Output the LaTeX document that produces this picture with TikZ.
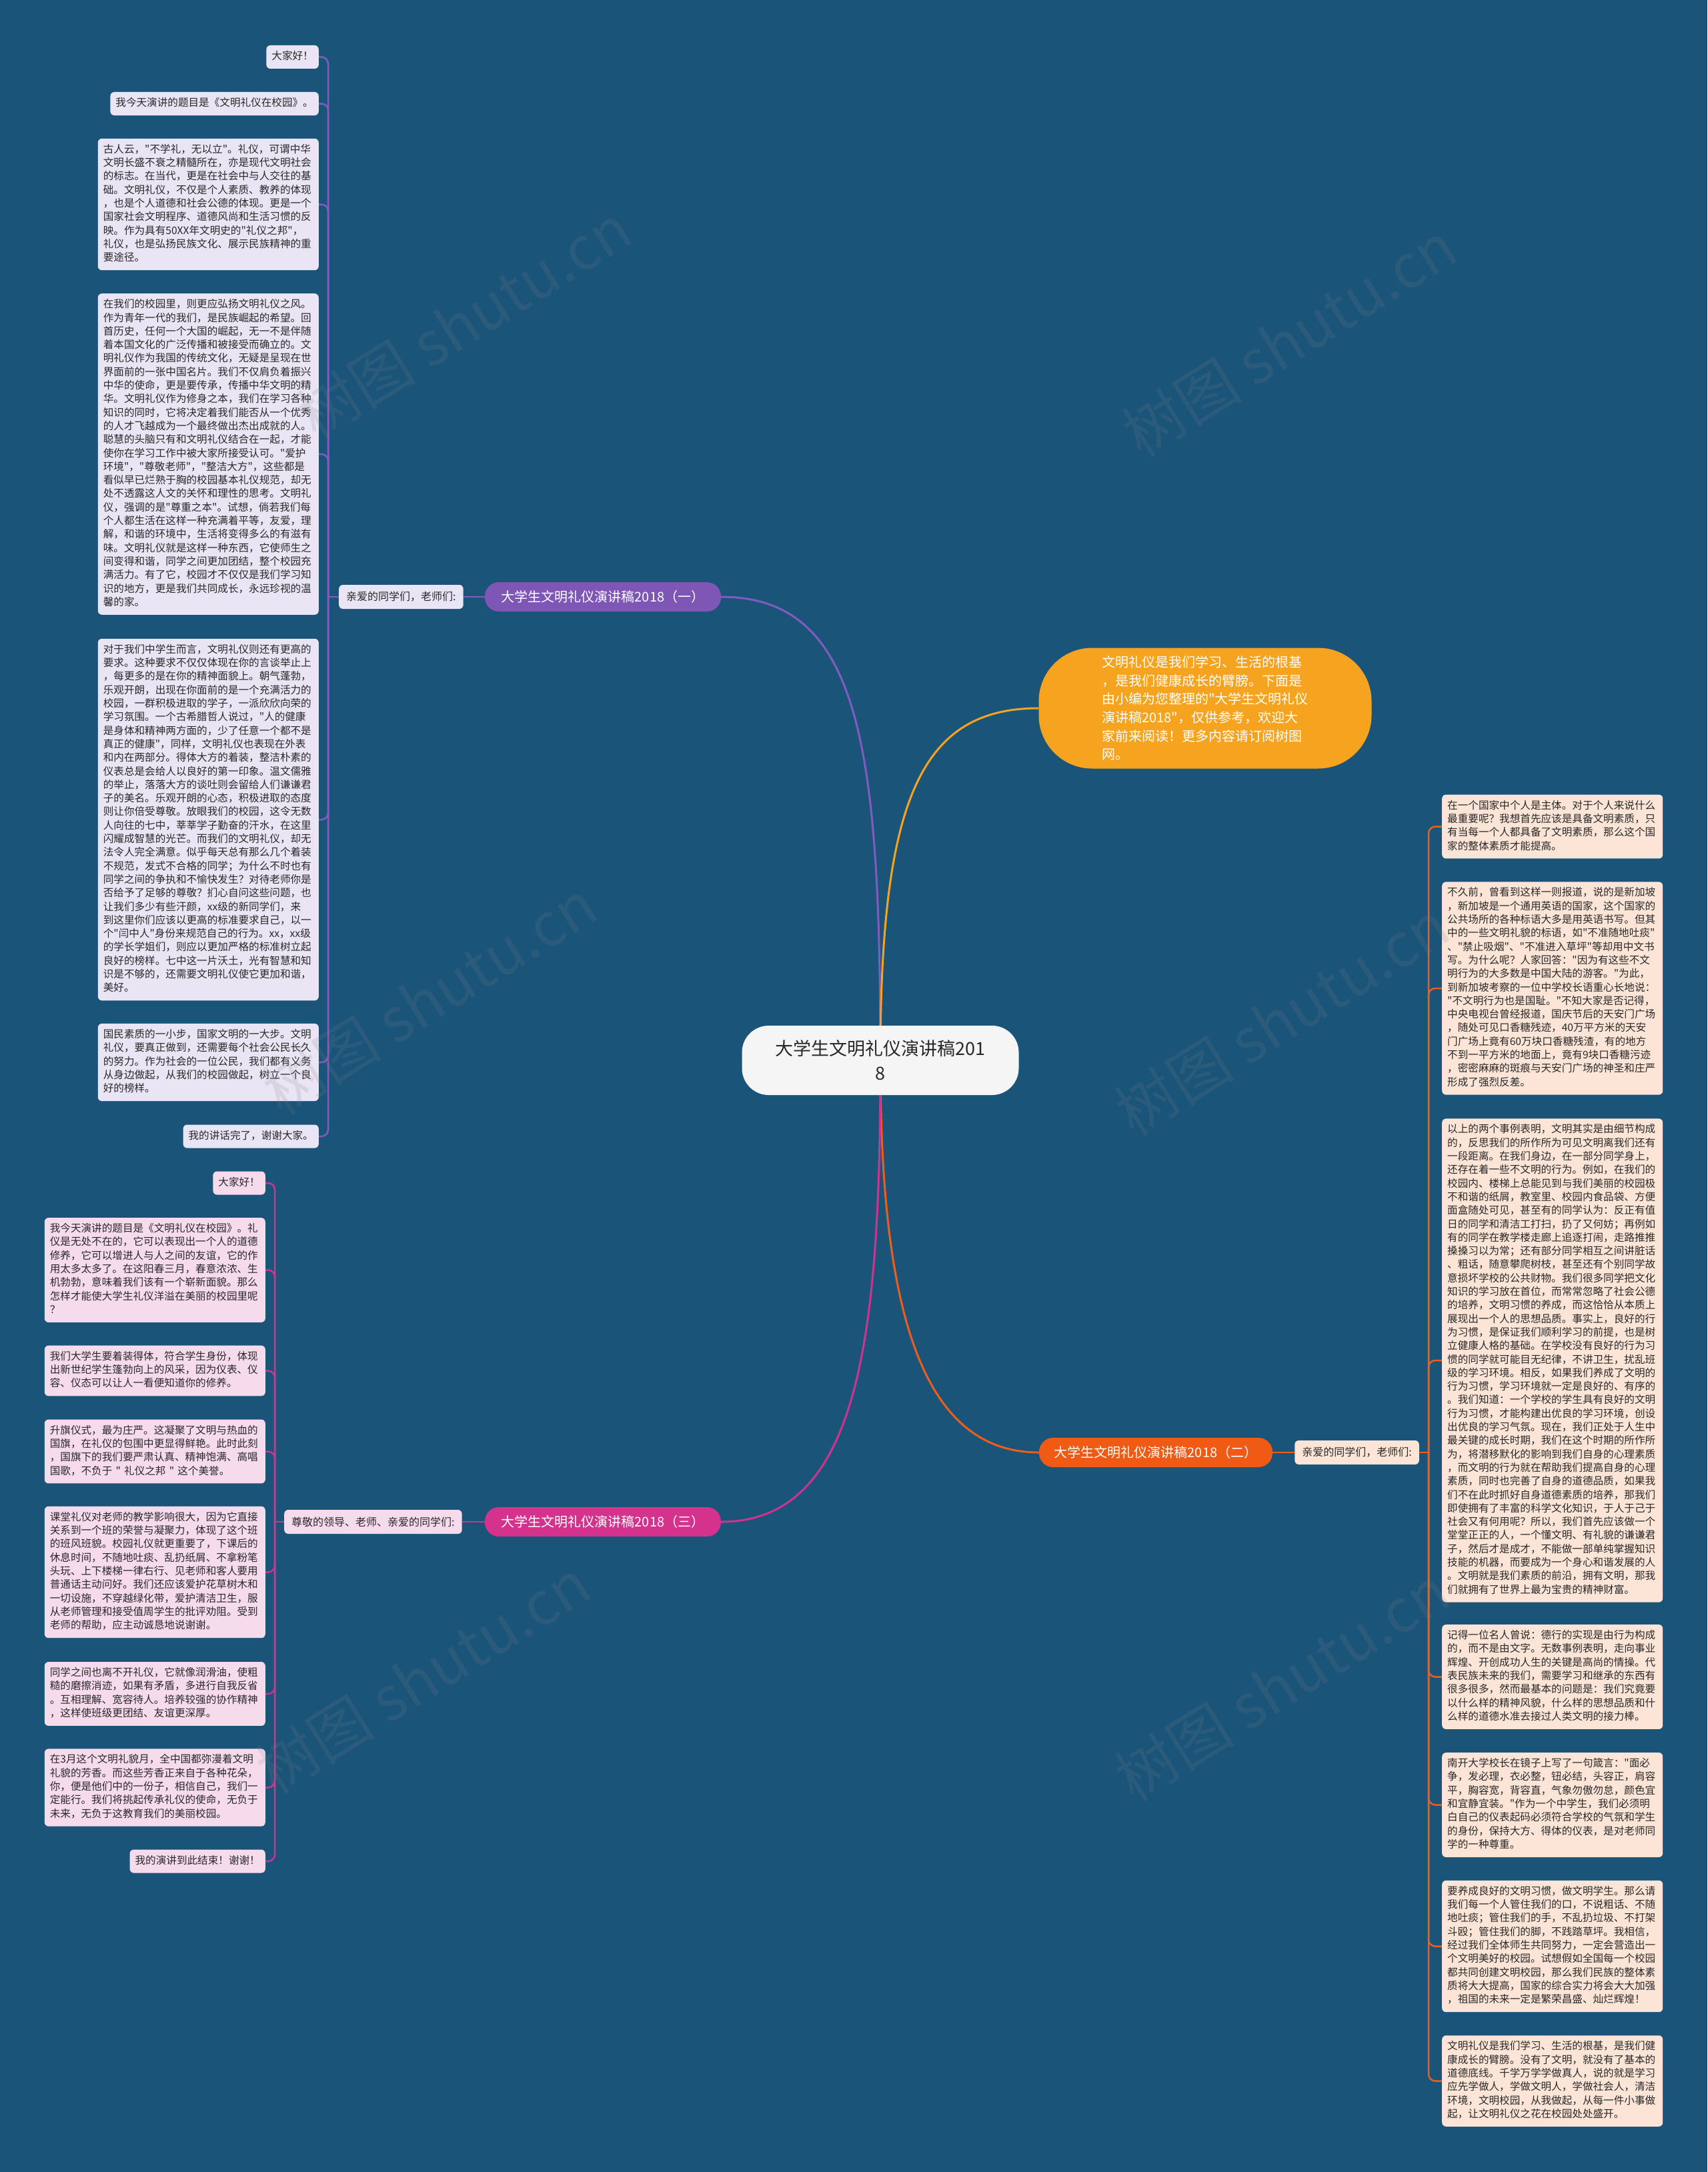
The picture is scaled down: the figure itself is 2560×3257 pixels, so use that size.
\documentclass[tikz,border=0pt]{standalone}
\usepackage{fontspec}
\newfontfamily\cjk{Noto Sans CJK SC}
\definecolor{bgc}{RGB}{27,84,121}
\definecolor{g1c}{RGB}{128,92,190}
\definecolor{g1f}{RGB}{233,229,245}
\definecolor{g1p}{RGB}{126,87,182}
\definecolor{g2c}{RGB}{238,94,26}
\definecolor{g2f}{RGB}{252,229,215}
\definecolor{g2p}{RGB}{240,90,20}
\definecolor{g3c}{RGB}{206,52,142}
\definecolor{g3f}{RGB}{246,219,237}
\definecolor{g3p}{RGB}{212,50,140}
\definecolor{orc}{RGB}{246,164,32}
\definecolor{cenf}{RGB}{245,245,245}
\definecolor{txtc}{RGB}{40,40,40}
\pgfdeclarelayer{bg}
\pgfdeclarelayer{lines}
\pgfsetlayers{bg,lines,main}
\tikzset{
  txt/.style={rounded corners=6pt, inner xsep=8pt, inner ysep=7.35pt, text=txtc,
    font=\cjk\fontsize{15.6}{20.3}\selectfont,
    execute at begin node=\strut, execute at end node=\strut},
  para/.style={txt, text width=315pt, align=left},
  labl/.style={rounded corners=6pt, inner xsep=11pt, inner ysep=0pt, minimum height=36pt,
    text=txtc, font=\cjk\fontsize{16}{20}\selectfont},
  pill/.style={rounded corners=21pt, minimum height=44pt, minimum width=354pt, inner sep=0pt,
    text=white, font=\cjk\fontsize{20}{24}\selectfont},
  g1line/.style={draw=g1c, line width=2.5pt},
  g2line/.style={draw=g2c, line width=2.5pt},
  g3line/.style={draw=g3c, line width=2.5pt},
  wm/.style={rotate=32, font=\cjk\fontsize{90}{90}\selectfont, text=gray, opacity=0.16}
}
\begin{document}
\begin{tikzpicture}[x=1pt, y=-1pt]
\begin{pgfonlayer}{bg}
\fill[bgc] (0,0) rectangle (2560,3257);
\end{pgfonlayer}
\useasboundingbox (0,0) rectangle (2560,3257);

% ---------- centre, bubble, branches ----------
\node[rounded corners=40pt, minimum width=415pt, minimum height=104pt, inner sep=0pt,
  fill=cenf, text=txtc, align=center, font=\cjk\fontsize{27}{37}\selectfont] (c) at (1320,1590)
  {大学生文明礼仪演讲稿201\\8};

\node[rounded corners=80pt, minimum width=499pt, minimum height=181pt, inner sep=0pt,
  fill=orc, text=white, align=left, font=\cjk\fontsize{20}{27.6}\selectfont] (b) at (1807,1062)
  {文明礼仪是我们学习、生活的根基\\，是我们健康成长的臂膀。下面是\\由小编为您整理的"大学生文明礼仪\\演讲稿2018"，仅供参考，欢迎大\\家前来阅读！更多内容请订阅树图\\网。};

\node[pill, fill=g1p] (p1) at (904,895) {大学生文明礼仪演讲稿2018（一）};
\node[pill, fill=g2p, minimum width=350pt] (p2) at (1733,2178) {大学生文明礼仪演讲稿2018（二）};
\node[pill, fill=g3p] (p3) at (904,2282) {大学生文明礼仪演讲稿2018（三）};

\node[labl, fill=g1f, anchor=west] (l1) at (508,895) {亲爱的同学们，老师们:};
\node[labl, fill=g2f, anchor=east] (l2) at (2128,2178) {亲爱的同学们，老师们:};
\node[labl, fill=g3f, anchor=west] (l3) at (426,2282) {尊敬的领导、老师、亲爱的同学们:};

% ---------- group 1 ----------
\node[txt, fill=g1f, anchor=east] (a1) at (478,85.5) {大家好！};
\node[txt, fill=g1f, anchor=east] (a2) at (478,155.5) {我今天演讲的题目是《文明礼仪在校园》。};
\node[para, fill=g1f, anchor=east] (a3) at (478,306.5) {古人云，"不学礼，无以立"。礼仪，可谓中华\\文明长盛不衰之精髓所在，亦是现代文明社会\\的标志。在当代，更是在社会中与人交往的基\\础。文明礼仪，不仅是个人素质、教养的体现\\，也是个人道德和社会公德的体现。更是一个\\国家社会文明程序、道德风尚和生活习惯的反\\映。作为具有50XX年文明史的"礼仪之邦"，\\礼仪，也是弘扬民族文化、展示民族精神的重\\要途径。};
\node[para, fill=g1f, anchor=east] (a4) at (478,681) {在我们的校园里，则更应弘扬文明礼仪之风。\\作为青年一代的我们，是民族崛起的希望。回\\首历史，任何一个大国的崛起，无一不是伴随\\着本国文化的广泛传播和被接受而确立的。文\\明礼仪作为我国的传统文化，无疑是呈现在世\\界面前的一张中国名片。我们不仅肩负着振兴\\中华的使命，更是要传承，传播中华文明的精\\华。文明礼仪作为修身之本，我们在学习各种\\知识的同时，它将决定着我们能否从一个优秀\\的人才飞越成为一个最终做出杰出成就的人。\\聪慧的头脑只有和文明礼仪结合在一起，才能\\使你在学习工作中被大家所接受认可。"爱护\\环境"，"尊敬老师"，"整洁大方"，这些都是\\看似早已烂熟于胸的校园基本礼仪规范，却无\\处不透露这人文的关怀和理性的思考。文明礼\\仪，强调的是"尊重之本"。试想，倘若我们每\\个人都生活在这样一种充满着平等，友爱，理\\解，和谐的环境中，生活将变得多么的有滋有\\味。文明礼仪就是这样一种东西，它使师生之\\间变得和谐，同学之间更加团结，整个校园充\\满活力。有了它，校园才不仅仅是我们学习知\\识的地方，更是我们共同成长，永远珍视的温\\馨的家。};
\node[para, fill=g1f, anchor=east] (a5) at (478,1229) {对于我们中学生而言，文明礼仪则还有更高的\\要求。这种要求不仅仅体现在你的言谈举止上\\，每更多的是在你的精神面貌上。朝气蓬勃，\\乐观开朗，出现在你面前的是一个充满活力的\\校园，一群积极进取的学子，一派欣欣向荣的\\学习氛围。一个古希腊哲人说过，"人的健康\\是身体和精神两方面的，少了任意一个都不是\\真正的健康"，同样，文明礼仪也表现在外表\\和内在两部分。得体大方的着装，整洁朴素的\\仪表总是会给人以良好的第一印象。温文儒雅\\的举止，落落大方的谈吐则会留给人们谦谦君\\子的美名。乐观开朗的心态，积极进取的态度\\则让你倍受尊敬。放眼我们的校园，这令无数\\人向往的七中，莘莘学子勤奋的汗水，在这里\\闪耀成智慧的光芒。而我们的文明礼仪，却无\\法令人完全满意。似乎每天总有那么几个着装\\不规范，发式不合格的同学；为什么不时也有\\同学之间的争执和不愉快发生？对待老师你是\\否给予了足够的尊敬？扪心自问这些问题，也\\让我们多少有些汗颜，xx级的新同学们，来\\到这里你们应该以更高的标准要求自己，以一\\个"闫中人"身份来规范自己的行为。xx，xx级\\的学长学姐们，则应以更加严格的标准树立起\\良好的榜样。七中这一片沃土，光有智慧和知\\识是不够的，还需要文明礼仪使它更加和谐，\\美好。};
\node[para, fill=g1f, anchor=east] (a6) at (478,1593) {国民素质的一小步，国家文明的一大步。文明\\礼仪，要真正做到，还需要每个社会公民长久\\的努力。作为社会的一位公民，我们都有义务\\从身边做起，从我们的校园做起，树立一个良\\好的榜样。};
\node[txt, fill=g1f, anchor=east] (a7) at (478,1704) {我的讲话完了，谢谢大家。};

% ---------- group 3 ----------
\node[txt, fill=g3f, anchor=east] (e1) at (398,1774) {大家好！};
\node[para, fill=g3f, anchor=east] (e2) at (398,1904.5) {我今天演讲的题目是《文明礼仪在校园》。礼\\仪是无处不在的，它可以表现出一个人的道德\\修养，它可以增进人与人之间的友谊，它的作\\用太多太多了。在这阳春三月，春意浓浓、生\\机勃勃，意味着我们该有一个崭新面貌。那么\\怎样才能使大学生礼仪洋溢在美丽的校园里呢\\？};
\node[para, fill=g3f, anchor=east] (e3) at (398,2055.5) {我们大学生要着装得体，符合学生身份，体现\\出新世纪学生篷勃向上的风采，因为仪表、仪\\容、仪态可以让人一看便知道你的修养。};
\node[para, fill=g3f, anchor=east] (e4) at (398,2176.5) {升旗仪式，最为庄严。这凝聚了文明与热血的\\国旗，在礼仪的包围中更显得鲜艳。此时此刻\\，国旗下的我们要严肃认真、精神饱满、高唱\\国歌，不负于 " 礼仪之邦 " 这个美誉。};
\node[para, fill=g3f, anchor=east] (e5) at (398,2357.5) {课堂礼仪对老师的教学影响很大，因为它直接\\关系到一个班的荣誉与凝聚力，体现了这个班\\的班风班貌。校园礼仪就更重要了，下课后的\\休息时间，不随地吐痰、乱扔纸屑、不拿粉笔\\头玩、上下楼梯一律右行、见老师和客人要用\\普通话主动问好。我们还应该爱护花草树木和\\一切设施，不穿越绿化带，爱护清洁卫生，服\\从老师管理和接受值周学生的批评劝阻。受到\\老师的帮助，应主动诚恳地说谢谢。};
\node[para, fill=g3f, anchor=east] (e6) at (398,2540) {同学之间也离不开礼仪，它就像润滑油，使粗\\糙的磨擦消迹，如果有矛盾，多进行自我反省\\。互相理解、宽容待人。培养较强的协作精神\\，这样使班级更团结、友谊更深厚。};
\node[para, fill=g3f, anchor=east] (e7) at (398,2680.5) {在3月这个文明礼貌月，全中国都弥漫着文明\\礼貌的芳香。而这些芳香正来自于各种花朵，\\你，便是他们中的一份子，相信自己，我们一\\定能行。我们将挑起传承礼仪的使命，无负于\\未来，无负于这教育我们的美丽校园。};
\node[txt, fill=g3f, anchor=east] (e8) at (398,2791) {我的演讲到此结束！谢谢！};

% ---------- group 2 ----------
\node[para, fill=g2f, anchor=west] (d1) at (2162,1239.5) {在一个国家中个人是主体。对于个人来说什么\\最重要呢？我想首先应该是具备文明素质，只\\有当每一个人都具备了文明素质，那么这个国\\家的整体素质才能提高。};
\node[para, fill=g2f, anchor=west] (d2) at (2162,1482) {不久前，曾看到这样一则报道，说的是新加坡\\，新加坡是一个通用英语的国家，这个国家的\\公共场所的各种标语大多是用英语书写。但其\\中的一些文明礼貌的标语，如"不准随地吐痰"\\、"禁止吸烟"、"不准进入草坪"等却用中文书\\写。为什么呢？人家回答："因为有这些不文\\明行为的大多数是中国大陆的游客。"为此，\\到新加坡考察的一位中学校长语重心长地说：\\"不文明行为也是国耻。"不知大家是否记得，\\中央电视台曾经报道，国庆节后的天安门广场\\，随处可见口香糖残迹，40万平方米的天安\\门广场上竟有60万块口香糖残渣，有的地方\\不到一平方米的地面上，竟有9块口香糖污迹\\，密密麻麻的斑痕与天安门广场的神圣和庄严\\形成了强烈反差。};
\node[para, fill=g2f, anchor=west] (d3) at (2162,2040) {以上的两个事例表明，文明其实是由细节构成\\的，反思我们的所作所为可见文明离我们还有\\一段距离。在我们身边，在一部分同学身上，\\还存在着一些不文明的行为。例如，在我们的\\校园内、楼梯上总能见到与我们美丽的校园极\\不和谐的纸屑，教室里、校园内食品袋、方便\\面盒随处可见，甚至有的同学认为：反正有值\\日的同学和清洁工打扫，扔了又何妨；再例如\\有的同学在教学楼走廊上追逐打闹，走路推推\\搡搡习以为常；还有部分同学相互之间讲脏话\\、粗话，随意攀爬树枝，甚至还有个别同学故\\意损坏学校的公共财物。我们很多同学把文化\\知识的学习放在首位，而常常忽略了社会公德\\的培养，文明习惯的养成，而这恰恰从本质上\\展现出一个人的思想品质。事实上，良好的行\\为习惯，是保证我们顺利学习的前提，也是树\\立健康人格的基础。在学校没有良好的行为习\\惯的同学就可能目无纪律，不讲卫生，扰乱班\\级的学习环境。相反，如果我们养成了文明的\\行为习惯，学习环境就一定是良好的、有序的\\。我们知道：一个学校的学生具有良好的文明\\行为习惯，才能构建出优良的学习环境，创设\\出优良的学习气氛。现在，我们正处于人生中\\最关键的成长时期，我们在这个时期的所作所\\为，将潜移默化的影响到我们自身的心理素质\\，而文明的行为就在帮助我们提高自身的心理\\素质，同时也完善了自身的道德品质，如果我\\们不在此时抓好自身道德素质的培养，那我们\\即使拥有了丰富的科学文化知识，于人于己于\\社会又有何用呢？所以，我们首先应该做一个\\堂堂正正的人，一个懂文明、有礼貌的谦谦君\\子，然后才是成才，不能做一部单纯掌握知识\\技能的机器，而要成为一个身心和谐发展的人\\。文明就是我们素质的前沿，拥有文明，那我\\们就拥有了世界上最为宝贵的精神财富。};
\node[para, fill=g2f, anchor=west] (d4) at (2162,2514.5) {记得一位名人曾说：德行的实现是由行为构成\\的，而不是由文字。无数事例表明，走向事业\\辉煌、开创成功人生的关键是高尚的情操。代\\表民族未来的我们，需要学习和继承的东西有\\很多很多，然而最基本的问题是：我们究竟要\\以什么样的精神风貌，什么样的思想品质和什\\么样的道德水准去接过人类文明的接力棒。};
\node[para, fill=g2f, anchor=west] (d5) at (2162,2706.5) {南开大学校长在镜子上写了一句箴言："面必\\争，发必理，衣必整，钮必结，头容正，肩容\\平，胸容宽，背容直，气象勿傲勿怠，颜色宜\\和宜静宜装。"作为一个中学生，我们必须明\\白自己的仪表起码必须符合学校的气氛和学生\\的身份，保持大方、得体的仪表，是对老师同\\学的一种尊重。};
\node[para, fill=g2f, anchor=west] (d6) at (2162,2918.5) {要养成良好的文明习惯，做文明学生。那么请\\我们每一个人管住我们的口，不说粗话、不随\\地吐痰；管住我们的手，不乱扔垃圾、不打架\\斗殴；管住我们的脚，不践踏草坪。我相信，\\经过我们全体师生共同努力，一定会营造出一\\个文明美好的校园。试想假如全国每一个校园\\都共同创建文明校园，那么我们民族的整体素\\质将大大提高，国家的综合实力将会大大加强\\，祖国的未来一定是繁荣昌盛、灿烂辉煌！};
\node[para, fill=g2f, anchor=west] (d7) at (2162,3120.5) {文明礼仪是我们学习、生活的根基，是我们健\\康成长的臂膀。没有了文明，就没有了基本的\\道德底线。千学万学学做真人，说的就是学习\\应先学做人，学做文明人，学做社会人，清洁\\环境，文明校园，从我做起，从每一件小事做\\起，让文明礼仪之花在校园处处盛开。};

% ---------- connectors ----------
\coordinate (t1) at (492,895);
\coordinate (t2) at (2142,2178);
\coordinate (t3) at (412,2282);
\begin{pgfonlayer}{lines}
\draw[draw=g1c, line width=3pt] (c.center) .. controls (1320,1120) and (1290,895) .. (p1.east);
\draw[draw=orc, line width=3pt] (c.center) .. controls (1320,1200) and (1380,1062) .. (b.west);
\draw[draw=g2c, line width=3pt] (c.center) .. controls (1320,1960) and (1380,2178) .. (p2.west);
\draw[draw=g3c, line width=3pt] (c.center) .. controls (1320,2000) and (1290,2282) .. (p3.east);
\draw[g1line] (p1.west) -- (l1.east);
\draw[g2line] (p2.east) -- (l2.west);
\draw[g3line] (p3.west) -- (l3.east);
\draw[g1line] (l1.west) -- (t1);
\draw[g2line] (l2.east) -- (t2);
\draw[g3line] (l3.west) -- (t3);
\foreach \n in {a1,a2,a3,a4,a5,a6,a7}
  \draw[g1line, rounded corners=10pt] (t1) |- (\n.east);
\foreach \n in {e1,e2,e3,e4,e5,e6,e7,e8}
  \draw[g3line, rounded corners=10pt] (t3) |- (\n.east);
\foreach \n in {d1,d2,d3,d4,d5,d6,d7}
  \draw[g2line, rounded corners=10pt] (t2) |- (\n.west);
\end{pgfonlayer}

% ---------- watermarks ----------
\node[wm] (wm1) at (696,482) {树图 shutu.cn};
\node[wm] (wm2) at (1933,509) {树图 shutu.cn};
\node[wm] (wm3) at (644,1496) {树图 shutu.cn};
\node[wm] (wm4) at (1922,1527) {树图 shutu.cn};
\node[wm] (wm5) at (634,2514) {树图 shutu.cn};
\node[wm] (wm6) at (1922,2525) {树图 shutu.cn};
\end{tikzpicture}
\end{document}
